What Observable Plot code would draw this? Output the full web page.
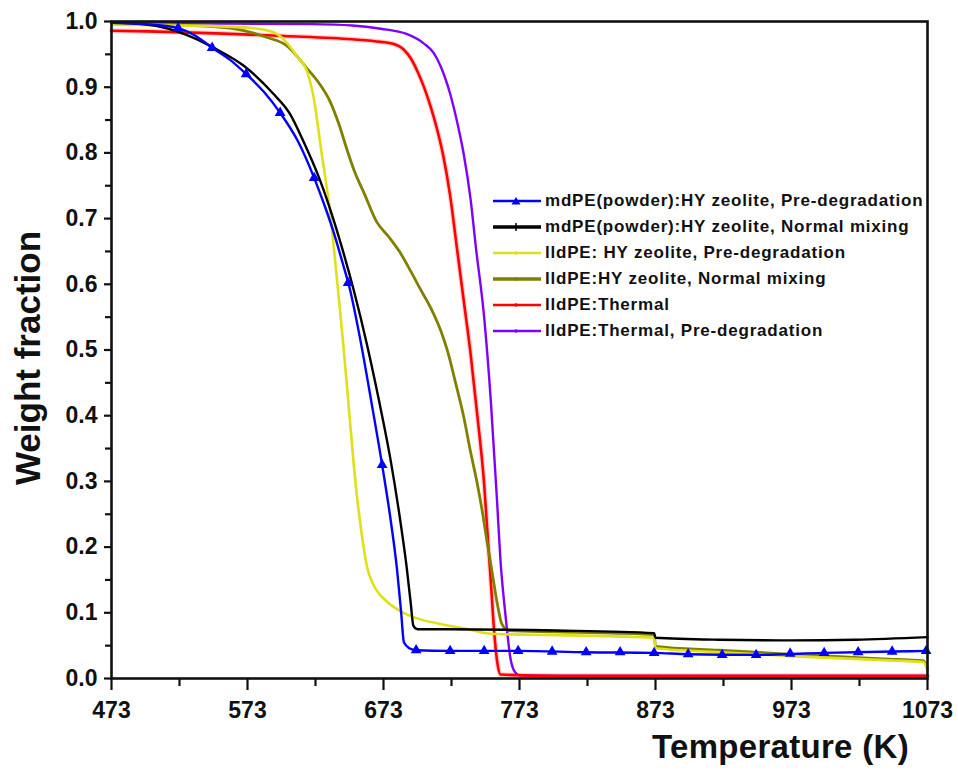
<!DOCTYPE html>
<html>
<head>
<meta charset="utf-8">
<script src="https://cdn.jsdelivr.net/npm/d3@7"></script>
<script src="https://cdn.jsdelivr.net/npm/@observablehq/plot@0.6"></script>
<style>
  html, body { margin: 0; padding: 0; background: #fff; }
  #wrap { position: relative; width: 958px; height: 774px; font-family: "Liberation Sans", Arial, sans-serif; }
  #chart { position: absolute; left: 0; top: 0; }
  .ylab { position: absolute; left: 28px; top: 358px; transform: translate(-50%, -50%) rotate(-90deg); font-weight: bold; font-size: 35px; white-space: nowrap; color: #111; }
  .xlab { position: absolute; left: 652px; top: 728px; font-weight: bold; font-size: 33px; letter-spacing: 0.3px; white-space: nowrap; color: #111; }
  #legend { position: absolute; left: 492px; top: 188px; }
  .row { display: flex; align-items: center; height: 26px; }
  .row svg { width: 52px; height: 26px; flex: none; }
  .row span { font-weight: bold; font-size: 17px; letter-spacing: 0.8px; color: #111; white-space: nowrap; margin-left: 1px; }
</style>
</head>
<body>
<div id="wrap">
  <div id="chart"></div>
  <div class="ylab">Weight fraction</div>
  <div class="xlab">Temperature (K)</div>
  <div id="legend"></div>
</div>
<script>
// ---- axis ticks ----
const xMajor = [473, 573, 673, 773, 873, 973, 1073];
const xMinor = [523, 623, 723, 823, 923, 1023];
const yMajor = [0, 0.1, 0.2, 0.3, 0.4, 0.5, 0.6, 0.7, 0.8, 0.9, 1.0];
const yMinor = [0.05, 0.15, 0.25, 0.35, 0.45, 0.55, 0.65, 0.75, 0.85, 0.95];

// ---- series names ----
const seriesNames = [
  "mdPE(powder):HY zeolite, Pre-degradation",
  "mdPE(powder):HY zeolite, Normal mixing",
  "lldPE: HY zeolite, Pre-degradation",
  "lldPE:HY zeolite, Normal mixing",
  "lldPE:Thermal",
  "lldPE:Thermal, Pre-degradation"
];
const seriesColors = ["#0000ff", "#000000", "#e0e01a", "#808000", "#ff0000", "#8000ff"];

// ---- mdPE(powder):HY zeolite, Pre-degradation (blue) ----
const blueT = [473, 498, 522, 535, 547, 560, 572, 585, 597, 610, 622, 630, 637, 643, 648, 656, 664, 672, 678, 683, 686, 688, 692, 697, 722, 772, 822, 872, 897, 947, 997, 1047, 1073];
const blueW = [0.998, 0.996, 0.99, 0.978, 0.96, 0.942, 0.92, 0.893, 0.861, 0.818, 0.762, 0.718, 0.675, 0.632, 0.595, 0.515, 0.422, 0.325, 0.245, 0.165, 0.1, 0.055, 0.046, 0.043, 0.042, 0.042, 0.04, 0.039, 0.037, 0.036, 0.039, 0.041, 0.042];
// triangle markers on the blue curve
const blueMarkT = [522, 547, 572, 597, 622, 647, 672, 697, 722, 747, 772, 797, 822, 847, 872, 897, 922, 947, 972, 997, 1022, 1047, 1072];
const blueMarkW = [0.99, 0.96, 0.92, 0.861, 0.762, 0.602, 0.325, 0.043, 0.042, 0.042, 0.042, 0.041, 0.04, 0.04, 0.039, 0.037, 0.036, 0.036, 0.038, 0.039, 0.04, 0.041, 0.042];

// ---- mdPE(powder):HY zeolite, Normal mixing (black) ----
const blackT = [473, 500, 529, 550, 570, 592, 604, 614, 626, 636, 643, 651, 661, 670, 678, 685, 690, 693, 695, 698, 720, 800, 872, 873, 920, 973, 1020, 1073];
const blackW = [0.998, 0.995, 0.979, 0.958, 0.933, 0.89, 0.86, 0.818, 0.76, 0.7, 0.652, 0.592, 0.507, 0.42, 0.335, 0.245, 0.17, 0.115, 0.08, 0.075, 0.075, 0.073, 0.069, 0.062, 0.059, 0.058, 0.059, 0.063];

// ---- lldPE: HY zeolite, Pre-degradation (yellow) ----
const yellowT = [473, 520, 570, 590, 600, 609, 617, 622, 627, 634, 639, 643.5, 648, 652.5, 657, 661, 665, 668, 675, 685, 700, 715, 735, 752, 800, 872, 873, 920, 973, 1040, 1070, 1073];
const yellowW = [0.995, 0.994, 0.991, 0.985, 0.972, 0.948, 0.923, 0.88, 0.807, 0.705, 0.603, 0.507, 0.4, 0.296, 0.22, 0.169, 0.145, 0.134, 0.118, 0.103, 0.09, 0.083, 0.075, 0.068, 0.066, 0.062, 0.046, 0.04, 0.034, 0.028, 0.025, 0.012];

// ---- lldPE:HY zeolite, Normal mixing (olive) ----
const oliveT = [473, 520, 560, 587, 602, 617, 626, 634, 640, 646, 652, 658.5, 668, 677, 685, 693, 700, 708, 715, 720, 726, 732, 737, 742, 746, 749, 753, 757, 760, 765, 800, 872, 873, 920, 973, 1040, 1070, 1073];
const oliveW = [0.998, 0.995, 0.99, 0.976, 0.963, 0.928, 0.905, 0.877, 0.845, 0.806, 0.77, 0.74, 0.695, 0.672, 0.649, 0.62, 0.593, 0.563, 0.53, 0.499, 0.45, 0.398, 0.345, 0.296, 0.25, 0.21, 0.16, 0.11, 0.083, 0.073, 0.071, 0.067, 0.049, 0.043, 0.037, 0.03, 0.027, 0.014];

// ---- lldPE:Thermal (red) ----
const redT = [473, 500, 550, 600, 650, 671, 680, 688, 693, 698, 703, 708, 712, 717, 722, 727, 732, 737, 742, 747, 749.5, 752, 754.5, 757, 759, 800, 900, 1073];
const redW = [0.986, 0.985, 0.982, 0.978, 0.973, 0.969, 0.966, 0.957, 0.944, 0.924, 0.899, 0.868, 0.839, 0.795, 0.735, 0.655, 0.575, 0.495, 0.4, 0.296, 0.22, 0.145, 0.068, 0.02, 0.006, 0.004, 0.004, 0.004];

// ---- lldPE:Thermal, Pre-degradation (purple) ----
const purpleT = [473, 550, 620, 650, 671, 690, 703, 710, 715, 722, 728, 732, 737, 741, 747, 752, 756.5, 759, 762, 764, 766, 769, 773, 800, 900, 1073];
const purpleW = [0.998, 0.997, 0.996, 0.994, 0.989, 0.981, 0.966, 0.952, 0.932, 0.89, 0.839, 0.798, 0.73, 0.655, 0.55, 0.42, 0.27, 0.18, 0.11, 0.07, 0.035, 0.012, 0.005, 0.004, 0.004, 0.004];

const rows = (T, W) => T.map((t, i) => ({T: t, w: W[i]}));

const blue = rows(blueT, blueW);
const blueMarks = rows(blueMarkT, blueMarkW);
const black = rows(blackT, blackW);
const yellow = rows(yellowT, yellowW);
const olive = rows(oliveT, oliveW);
const red = rows(redT, redW);
const purple = rows(purpleT, purpleW);

const line = (data, color, sw) => Plot.line(data, {x: "T", y: "w", stroke: color, strokeWidth: sw, strokeLinejoin: "round", curve: "monotone-x"});

const chart = Plot.plot({
  width: 958,
  height: 774,
  marginLeft: 111,
  marginRight: 31,
  marginTop: 21,
  marginBottom: 96,
  x: {domain: [473, 1073]},
  y: {domain: [0, 1]},
  style: {fontFamily: "'Liberation Sans', Arial, sans-serif", fontSize: "23px", fontWeight: "bold", color: "#111", background: "#fff"},
  marks: [
    Plot.axisX({ticks: xMajor, tickSize: 12, tickPadding: 11, tickFormat: d => String(d), strokeWidth: 2.2, label: null}),
    Plot.axisX({ticks: xMinor, tickSize: 8, tickFormat: () => "", strokeWidth: 2.2, label: null}),
    Plot.axisY({ticks: yMajor, tickSize: 7, tickPadding: 7, tickFormat: d3.format(".1f"), strokeWidth: 2.2, label: null}),
    Plot.axisY({ticks: yMinor, tickSize: 6, tickFormat: () => "", strokeWidth: 2.2, label: null}),
    Plot.line(red, {x: "T", y: "w", stroke: "#ffb0b0", strokeWidth: 5, curve: "monotone-x", strokeOpacity: 0.6}),
    line(purple, seriesColors[5], 2.4),
    line(red, seriesColors[4], 2.6),
    line(olive, seriesColors[3], 2.8),
    line(yellow, seriesColors[2], 2.6),
    line(black, seriesColors[1], 2.4),
    line(blue, seriesColors[0], 2.4),
    Plot.dot(blueMarks, {x: "T", y: "w", symbol: "triangle", r: 4, fill: seriesColors[0], stroke: "none"}),
    Plot.frame({stroke: "#111", strokeWidth: 2.6})
  ]
});
document.getElementById("chart").appendChild(chart);

// ---- legend ----
const markerKinds = ["triangle", "plus", "dot", "dot", "dot", "dot"];
const legend = document.getElementById("legend");
seriesNames.forEach((name, i) => {
  const row = document.createElement("div");
  row.className = "row";
  const c = seriesColors[i];
  let marker = "";
  if (markerKinds[i] === "triangle") marker = `<path d="M24,9 L28.5,16.5 L19.5,16.5 Z" fill="${c}"/>`;
  else if (markerKinds[i] === "plus") marker = `<path d="M24,9 V17 M20,13 H28" stroke="${c}" stroke-width="1.5"/>`;
  else marker = `<circle cx="24" cy="13" r="1.8" fill="${c}"/>`;
  row.innerHTML = `<svg viewBox="0 0 52 26"><line x1="1" y1="13" x2="49" y2="13" stroke="${c}" stroke-width="${i === 1 || i === 3 ? 3.5 : 2.5}"/>${marker}</svg><span>${name}</span>`;
  legend.appendChild(row);
});
</script>
</body>
</html>
